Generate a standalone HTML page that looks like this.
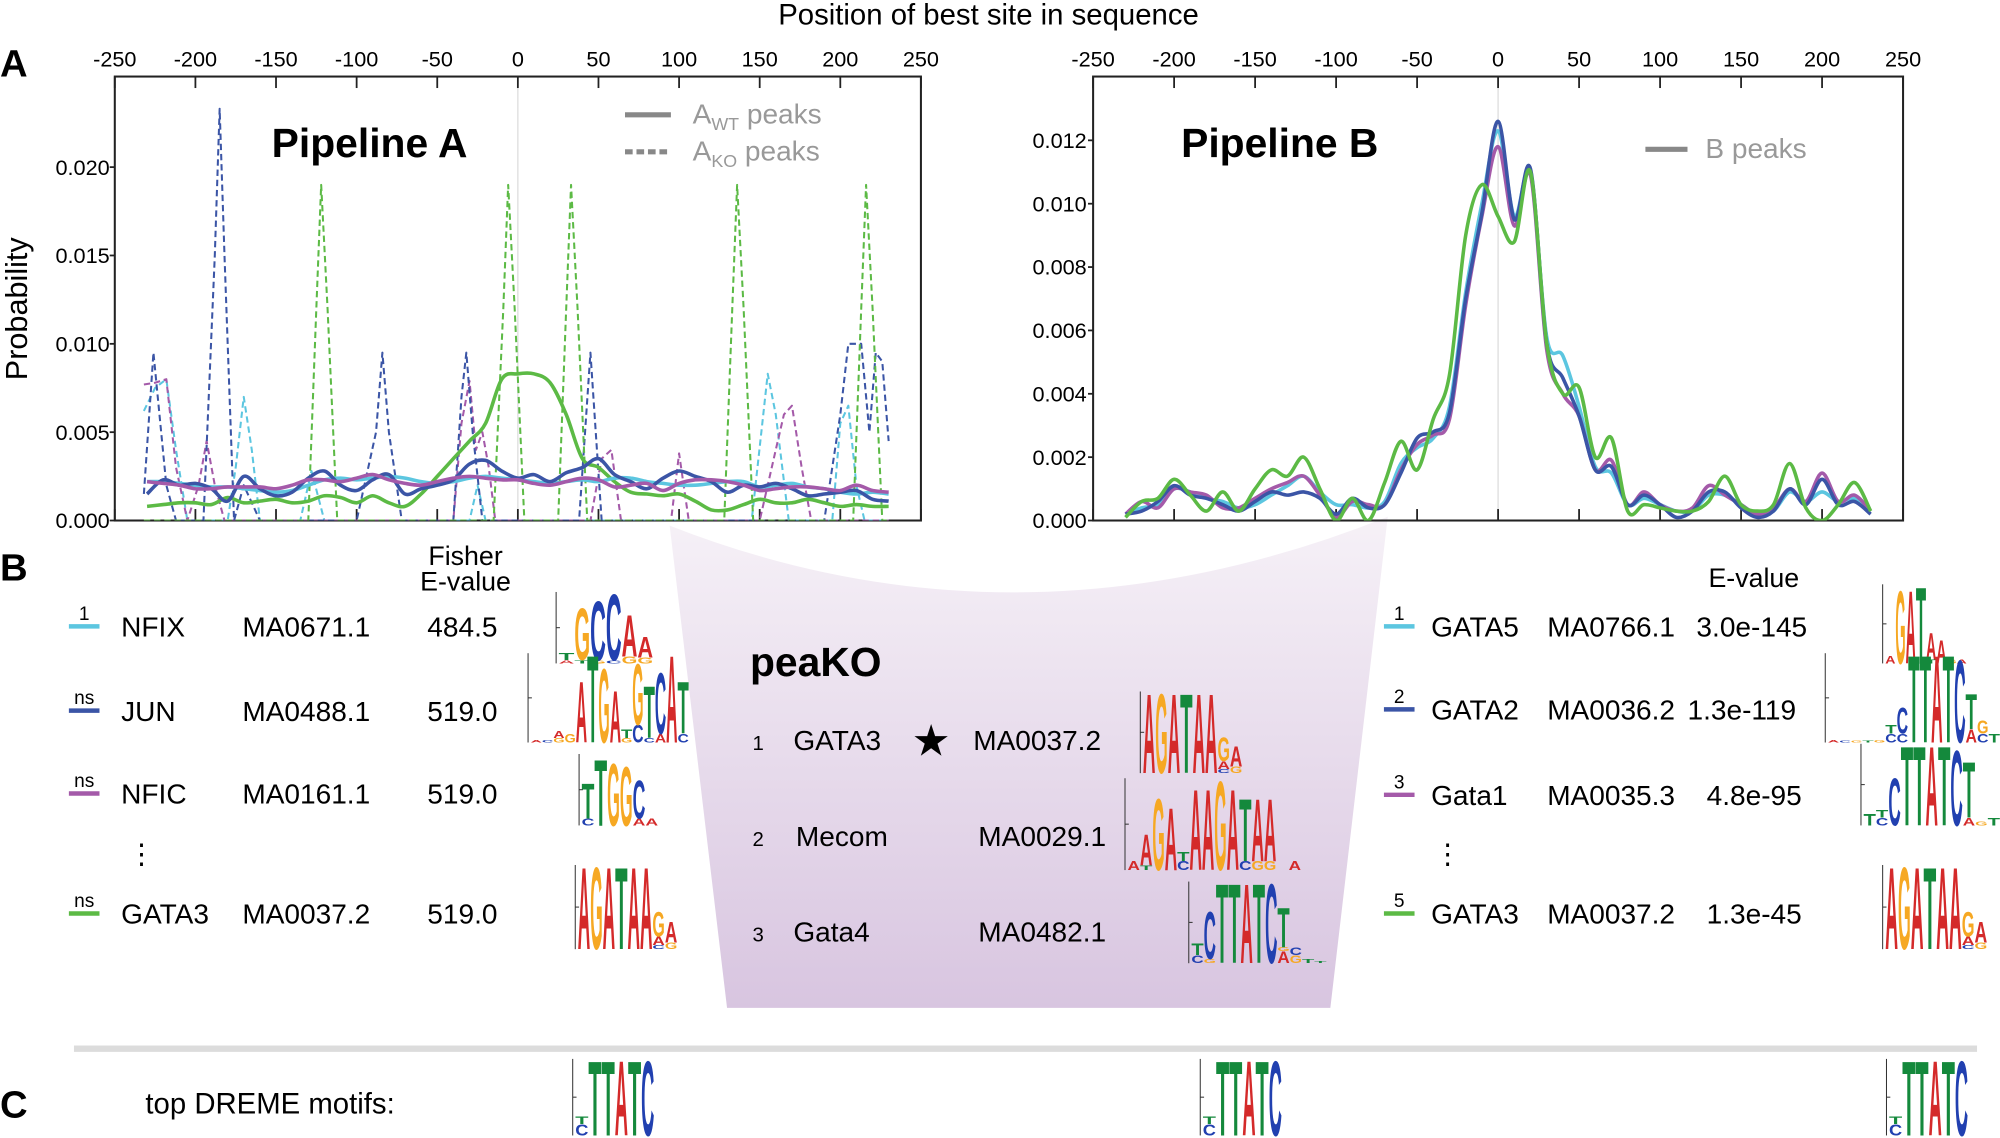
<!DOCTYPE html>
<html><head><meta charset="utf-8">
<style>
html,body{margin:0;padding:0;background:#fff;}
svg{display:block;font-family:"Liberation Sans",Arial,sans-serif;}
</style></head>
<body>
<svg id="fig" width="2000" height="1138" viewBox="0 0 1568 892" preserveAspectRatio="none" xmlns="http://www.w3.org/2000/svg">
<defs>
<linearGradient id="lav" x1="0" y1="0" x2="0" y2="1">
<stop offset="0" stop-color="#f6f1f7"/><stop offset="1" stop-color="#d8c5e0"/>
</linearGradient>
<clipPath id="clipA"><rect x="90" y="60" width="632" height="348"/></clipPath>
<clipPath id="clipB"><rect x="857" y="60" width="635" height="348"/></clipPath>
</defs>
<path d="M525,412 Q800,520 1088,405 L1043,790 L570,790 Z" fill="url(#lav)"/>
<text x="775" y="19" font-size="23" text-anchor="middle">Position of best site in sequence</text>
<text x="0" y="60" font-size="30" font-weight="bold">A</text>
<text x="0" y="455" font-size="30" font-weight="bold">B</text>
<text x="0" y="876" font-size="30" font-weight="bold">C</text>
<text transform="translate(21,242) rotate(-90)" font-size="24" text-anchor="middle">Probability</text>
<g id="plotA"></g>
<g id="plotB"></g>
<text x="213" y="123" font-size="32" font-weight="bold">Pipeline A</text>
<text x="926" y="123" font-size="32" font-weight="bold">Pipeline B</text>
<g fill="#999" font-size="22">
<line x1="490" y1="90" x2="526" y2="90" stroke="#888" stroke-width="4"/>
<text x="543" y="97">A<tspan font-size="14" dy="5">WT</tspan><tspan dy="-5"> peaks</tspan></text>
<line x1="490" y1="119" x2="526" y2="119" stroke="#888" stroke-width="4" stroke-dasharray="6,3"/>
<text x="543" y="126">A<tspan font-size="14" dy="5">KO</tspan><tspan dy="-5"> peaks</tspan></text>
</g>
<g fill="#999" font-size="22">
<line x1="1290" y1="117" x2="1323" y2="117" stroke="#888" stroke-width="4"/>
<text x="1337" y="124">B peaks</text>
</g>
<g id="tables" font-size="22"></g>
<line x1="58" y1="822" x2="1550" y2="822" stroke="#dcdcdc" stroke-width="5"/>
<text x="114" y="873" font-size="23">top DREME motifs:</text>
<text x="588" y="530" font-size="32" font-weight="bold">peaKO</text>
</svg>
<script>
// ---------- Chart data (values in units of 1e-3 probability) ----------
const xTicks = [-250,-200,-150,-100,-50,0,50,100,150,200,250];
const yTicksA = [0.000,0.005,0.010,0.015,0.020];
const yTicksB = [0.000,0.002,0.004,0.006,0.008,0.010,0.012];
const gridX = [-230,-220,-210,-200,-190,-180,-170,-160,-150,-140,-130,-120,-110,-100,-90,-80,-70,-60,-50,-40,-30,-20,-10,0,10,20,30,40,50,60,70,80,90,100,110,120,130,140,150,160,170,180,190,200,210,220,230];
const aWtCyan   = [2.2,2.2,2.1,2.0,1.9,1.9,1.8,1.7,1.6,1.7,2.0,2.3,2.4,2.3,2.4,2.5,2.4,2.2,2.1,2.2,2.4,2.5,2.4,2.3,2.2,2.1,2.2,2.3,2.2,2.4,2.4,2.2,2.1,2.0,2.0,2.1,2.2,2.2,1.9,2.0,2.1,1.9,1.8,1.6,1.5,1.6,1.5];
const aWtBlue   = [1.5,2.3,2.0,2.1,1.8,1.1,2.5,1.8,1.4,1.6,2.4,2.8,2.0,1.7,2.3,2.6,1.5,1.8,2.0,2.3,3.2,3.4,2.8,2.4,2.6,2.2,2.7,3.0,3.5,2.6,2.2,1.8,2.4,2.8,2.5,2.2,1.6,2.0,1.9,2.1,1.8,1.4,1.5,1.6,1.7,1.2,1.1];
const aWtPurple = [2.2,2.1,2.0,1.8,1.8,1.9,1.9,1.9,1.8,2.0,2.3,2.3,2.2,2.4,2.6,2.3,2.1,2.0,2.2,2.4,2.5,2.4,2.3,2.3,2.1,2.0,2.2,2.4,2.3,1.9,2.0,2.1,1.7,2.1,2.3,2.3,2.2,2.0,1.7,1.8,1.9,1.9,1.8,1.7,2.0,1.7,1.6];
const aWtGreen  = [0.8,0.9,1.0,1.0,0.9,1.3,1.0,1.1,1.2,1.0,1.1,1.4,1.3,1.0,1.4,1.0,0.8,1.5,2.5,3.5,4.5,5.5,8.0,8.3,8.3,7.8,6.0,3.5,3.0,2.2,1.6,1.5,1.4,1.5,1.1,0.6,0.6,0.9,1.2,1.0,1.0,1.2,1.0,0.8,0.9,0.8,0.8];
const koBlueX   = [-232,-226,-218,-212,-195,-188,-185,-182,-176,-170,-160,-100,-88,-84,-80,-72,-40,-35,-32,-28,-22,10,38,45,52,190,200,205,213,218,222,226,230];
const koBlueY   = [1.5,9.5,2,0,0,15,23.3,15,0,2,0,0,5,9.5,5,0,0,7,9.5,5,0,0,0,9.5,0,0,6,10,10,5,9.5,9,4.5];
const koGreenX  = [-232,-130,-125,-122,-118,-112,-15,-9,-6,-2,4,25,30,33,37,43,128,133,136,140,146,208,213,216,220,226,230];
const koGreenY  = [0,0,12,19,12,0,0,12,19,12,0,0,12,19,12,0,0,12,19,12,0,0,12,19,12,0,0];
const koCyanX   = [-232,-225,-218,-212,-205,-180,-175,-170,-165,-160,-135,-128,-120,-30,-25,-20,145,155,160,168,195,200,205,210,215,230];
const koCyanY   = [6.2,7.5,8,4,0,0,3,7,4,0,0,2.8,0,0,2,0,0,8.3,6,0,0,5.5,6.5,2,0,0];
const koPurpleX = [-232,-225,-218,-212,-205,-198,-193,-188,-182,-40,-35,-30,-26,-22,-18,-14,45,52,58,64,95,100,106,150,160,165,170,176,182,230];
const koPurpleY = [7.7,7.8,8,3,0,2,4.5,2,0,0,5.5,7.9,4,5,3,0,0,3.5,4,0,0,3.8,0,0,4,6,6.5,3,0,0];
const bCyan   = [0.2,0.4,0.5,1.0,0.9,0.7,0.6,0.4,0.5,0.8,1.1,1.4,0.9,0.5,0.5,0.4,0.6,1.8,2.3,2.6,3.6,7.2,10.0,12.3,9.6,11.0,5.8,5.2,3.6,1.7,1.5,0.5,0.7,0.5,0.3,0.3,0.8,0.8,0.5,0.2,0.3,0.9,0.6,0.9,0.6,0.7,0.3];
const bBlue   = [0.2,0.3,0.6,1.1,0.8,0.7,0.5,0.3,0.6,0.9,0.8,0.9,0.7,0.2,0.7,0.4,0.5,1.5,2.6,2.8,3.4,7.0,9.7,12.6,9.5,11.1,5.6,4.5,3.3,1.6,1.7,0.5,0.8,0.5,0.1,0.3,0.9,0.9,0.4,0.1,0.3,1.0,0.5,1.3,0.5,0.6,0.2];
const bPurple = [0.2,0.6,0.4,1.0,0.9,0.8,0.4,0.4,0.7,1.0,1.2,1.4,0.8,0.1,0.6,0.5,0.5,1.6,2.4,2.7,3.2,6.8,9.6,11.8,9.3,10.9,5.4,4.0,3.3,1.6,1.9,0.5,0.9,0.5,0.3,0.4,1.1,0.8,0.5,0.2,0.4,1.0,0.6,1.5,0.6,0.8,0.3];
const bGreen  = [0.1,0.6,0.7,1.3,0.8,0.3,0.9,0.3,1.0,1.6,1.4,2.0,1.0,0.0,0.7,0.0,1.2,2.5,1.6,3.2,4.6,9.0,10.6,9.6,8.8,11.0,5.6,4.0,4.2,2.0,2.6,0.3,0.5,0.4,0.3,0.3,0.6,1.4,0.5,0.3,0.5,1.8,0.4,0.0,0.5,1.2,0.3];

const COL = {cyan:'#5cc6e0', blue:'#3b55a6', purple:'#a45aa9', green:'#5cba45'};
const NS='http://www.w3.org/2000/svg';
function mk(tag, attrs, parent){const e=document.createElementNS(NS,tag);for(const k in attrs)e.setAttribute(k,attrs[k]);parent.appendChild(e);return e;}

function smoothPath(pts){
  let d='M'+pts[0][0].toFixed(1)+','+pts[0][1].toFixed(1);
  for(let i=0;i<pts.length-1;i++){
    const p0=pts[Math.max(0,i-1)],p1=pts[i],p2=pts[i+1],p3=pts[Math.min(pts.length-1,i+2)];
    const c1=[p1[0]+(p2[0]-p0[0])/6,p1[1]+(p2[1]-p0[1])/6];
    const c2=[p2[0]-(p3[0]-p1[0])/6,p2[1]-(p3[1]-p1[1])/6];
    d+=' C'+c1[0].toFixed(1)+','+c1[1].toFixed(1)+' '+c2[0].toFixed(1)+','+c2[1].toFixed(1)+' '+p2[0].toFixed(1)+','+p2[1].toFixed(1);
  }
  return d;
}
function linePath(pts){return 'M'+pts.map(p=>p[0].toFixed(1)+','+p[1].toFixed(1)).join(' L');}

function drawAxes(g, box, yTicks, xScale, yScale, yLabX){
  const fr=mk('rect',{x:box.x0,y:box.y0,width:box.x1-box.x0,height:box.y1-box.y0,fill:'none',stroke:'#222','stroke-width':1.6},g);
  
  
  const zl=mk('line',{x1:xScale(0),x2:xScale(0),y1:box.y0,y2:box.y1,stroke:'#ddd','stroke-width':1},g);
  
  
  xTicks.forEach(t=>{
    const x=xScale(t);
    const tk=mk('line',{x1:x,x2:x,y1:box.y0,y2:box.y0+9,stroke:'#222','stroke-width':1.4},g);
    
    
    const tb=mk('line',{x1:x,x2:x,y1:box.y1,y2:box.y1-9,stroke:'#222','stroke-width':1.4},g);
    
    
    const lb=mk('text',{x:x,y:box.y0-8,'font-size':17,'text-anchor':'middle'},g);
    lb.textContent=String(t);
    
    
  });
  yTicks.forEach(t=>{
    const y=yScale(t*1000);
    const tk=mk('line',{x1:box.x0-4,x2:box.x0,y1:y,y2:y,stroke:'#222','stroke-width':1.4},g);
    
    
    const lb=mk('text',{x:yLabX,y:y+6,'font-size':17,'text-anchor':'end'},g);
    lb.textContent=t.toFixed(3);
    
    
  });
}

function drawLine(g, xs, ys, xScale, yScale, color, dashed, name, clip){
  const pts=xs.map((x,i)=>[xScale(x),yScale(ys[i])]);
  const p=mk('path',{d:dashed?linePath(pts):smoothPath(pts),fill:'none',stroke:color,'stroke-width':dashed?1.6:2.8,'stroke-dasharray':dashed?'5,3':'none','stroke-linejoin':'round','clip-path':'url(#'+clip+')'},g);
  
  
}

// Panel A
(function(){
  const g=document.getElementById('plotA');
  const box={x0:90,x1:722,y0:60,y1:408};
  const xS=v=>box.x0+(v+250)*(box.x1-box.x0)/500;
  const yS=v=>box.y1-v*(277/20);
  drawAxes(g,box,yTicksA,xS,yS,86);
  drawLine(g,koCyanX,koCyanY,xS,yS,COL.cyan,true,'ko-nfix-line','clipA');
  drawLine(g,koPurpleX,koPurpleY,xS,yS,COL.purple,true,'ko-nfic-line','clipA');
  drawLine(g,koBlueX,koBlueY,xS,yS,COL.blue,true,'ko-jun-line','clipA');
  drawLine(g,koGreenX,koGreenY,xS,yS,COL.green,true,'ko-gata3-line','clipA');
  drawLine(g,gridX,aWtGreen,xS,yS,COL.green,false,'wt-gata3-line','clipA');
  drawLine(g,gridX,aWtCyan,xS,yS,COL.cyan,false,'wt-nfix-line','clipA');
  drawLine(g,gridX,aWtBlue,xS,yS,COL.blue,false,'wt-jun-line','clipA');
  drawLine(g,gridX,aWtPurple,xS,yS,COL.purple,false,'wt-nfic-line','clipA');
})();
// Panel B
(function(){
  const g=document.getElementById('plotB');
  const box={x0:857,x1:1492,y0:60,y1:408};
  const xS=v=>box.x0+(v+250)*(box.x1-box.x0)/500;
  const yS=v=>box.y1-v*(298/12);
  drawAxes(g,box,yTicksB,xS,yS,852);
  drawLine(g,gridX,bCyan,xS,yS,COL.cyan,false,'b-gata5-line','clipB');
  drawLine(g,gridX,bPurple,xS,yS,COL.purple,false,'b-gata1-line','clipB');
  drawLine(g,gridX,bBlue,xS,yS,COL.blue,false,'b-gata2-line','clipB');
  drawLine(g,gridX,bGreen,xS,yS,COL.green,false,'b-gata3-line','clipB');
})();

// ---------- Tables & logos ----------
const LC={A:'#d42a2a',C:'#2140b0',G:'#f6a823',T:'#14893c'};
function logo(x,yb,w,h,cols,name){
  const root=document.getElementById('fig');
  const g=mk('g',{},root);
  
  
  mk('line',{x1:x-2,x2:x-2,y1:yb-h,y2:yb,stroke:'#333','stroke-width':0.8},g);
  mk('line',{x1:x-2,x2:x+1,y1:yb-h/2,y2:yb-h/2,stroke:'#333','stroke-width':0.8},g);
  const cw=w/cols.length;
  cols.forEach((col,i)=>{
    let y=yb;
    col.forEach(([L,f])=>{
      const hh=f*h; if(hh<0.5)return;
      const t=mk('text',{x:0,y:0,'font-size':100,'font-weight':'bold',textLength:70,lengthAdjust:'spacingAndGlyphs',fill:LC[L],transform:`translate(${x+i*cw},${y}) scale(${cw/70},${hh/72})`},g);
      t.textContent=L;
      y-=hh;
    });
  });
}
const tb=document.getElementById('tables');
function txt(x,y,s,name,extra){
  const t=mk('text',Object.assign({x:x,y:y},extra||{}),tb);
  t.textContent=s;
  
  
  return t;
}
function marker(x,y,color,label,name){
  const l=mk('line',{x1:x,x2:x+24,y1:y,y2:y,stroke:color,'stroke-width':3.5},tb);
  
  
  const t=mk('text',{x:x+12,y:y-5,'font-size':15,'text-anchor':'middle'},tb);
  t.textContent=label;
  
  
}
txt(365,443,'Fisher','fisher-header',{'text-anchor':'middle','font-size':21});
txt(365,463,'E-value','fisher-evalue-header',{'text-anchor':'middle','font-size':21});
const leftRows=[[499,COL.cyan,'1','NFIX','MA0671.1','484.5',95],[565,COL.blue,'ns','JUN','MA0488.1','519.0',95],[630,COL.purple,'ns','NFIC','MA0161.1','519.0',95],[724,COL.green,'ns','GATA3','MA0037.2','519.0',95]];
leftRows.forEach(r=>{
  marker(54,r[0]-8,r[1],r[2],'a-marker-'+r[3].toLowerCase());
  txt(r[6],r[0],r[3],'a-motif-name');
  txt(190,r[0],r[4],'a-motif-id');
  txt(335,r[0],r[5],'a-evalue');
});
txt(100,677,'⋮','a-ellipsis',{'font-size':22});
txt(1375,460,'E-value','b-evalue-header',{'text-anchor':'middle','font-size':21});
const rightRows=[[499,COL.cyan,'1','GATA5','MA0766.1','3.0e-145',1330],[564,COL.blue,'2','GATA2','MA0036.2','1.3e-119',1323],[631,COL.purple,'3','Gata1','MA0035.3','4.8e-95',1338],[724,COL.green,'5','GATA3','MA0037.2','1.3e-45',1338]];
rightRows.forEach(r=>{
  marker(1085,r[0]-8,r[1],r[2],'b-marker-'+r[3].toLowerCase());
  txt(1122,r[0],r[3],'b-motif-name');
  txt(1213,r[0],r[4],'b-motif-id');
  txt(r[6],r[0],r[5],'b-evalue');
});
txt(1124,677,'⋮','b-ellipsis',{'font-size':22});
const midRows=[[588,'1','GATA3','MA0037.2',763],[663,'2','Mecom','MA0029.1',767],[738,'3','Gata4','MA0482.1',767]];
midRows.forEach(r=>{
  txt(590,r[0],r[1],'peako-rank',{'font-size':16});
  txt(r[0]==663?624:622,r[0],r[2],'peako-motif-name');
  txt(r[4],r[0],r[3],'peako-motif-id');
});
txt(730,592,'★','gata3-star',{'font-size':34,'text-anchor':'middle'});

const GATA=[[['A',1]],[['G',1]],[['A',1]],[['T',1]],[['A',1]],[['A',1]],[['C',0.05],['A',0.1],['G',0.3]],[['G',0.08],['A',0.25]]];
logo(438,520,74,56,[[['A',0.05],['T',0.1]],[['T',0.05],['G',0.75]],[['G',0.05],['C',0.85]],[['C',0.05],['C',0.95]],[['G',0.1],['A',0.6]],[['G',0.08],['A',0.3]]],'nfix-logo');
logo(416,582,124,70,[[['A',0.03]],[['C',0.03]],[['G',0.05],['A',0.08]],[['G',0.1]],[['A',0.7]],[['T',1]],[['G',0.85]],[['A',0.6]],[['G',0.05],['T',0.1]],[['C',0.2],['G',0.7]],[['C',0.05],['T',0.6]],[['A',0.1],['C',0.7]],[['A',1]],[['C',0.1],['T',0.6]]],'jun-logo');
logo(456,647,60,56,[[['C',0.1],['T',0.5]],[['T',0.95]],[['G',0.9]],[['G',0.85]],[['A',0.1],['C',0.55]],[['A',0.1]]],'nfic-logo');
logo(453,744,78,66,GATA,'gata3-logo-a');
logo(896,606,78,64,GATA,'gata3-logo-peako');
logo(884,682,136,72,[[['A',0.1]],[['T',0.05],['A',0.35]],[['G',0.8]],[['A',0.7]],[['C',0.1],['T',0.1]],[['A',0.9]],[['A',0.9]],[['G',1]],[['A',0.9]],[['C',0.1],['T',0.7]],[['G',0.1],['A',0.7]],[['G',0.1],['A',0.7]],[],[['A',0.1]]],'mecom-logo');
logo(934,755,106,64,[[['C',0.1],['T',0.15]],[['G',0.05],['C',0.6]],[['T',1]],[['T',1]],[['A',1]],[['T',1]],[['C',1]],[['A',0.15],['G',0.05],['T',0.5]],[['G',0.1],['C',0.1]],[['T',0.05]],[['T',0.02]]],'gata4-logo');
logo(1478,520,64,62,[[['A',0.1]],[['G',0.95]],[['A',0.95]],[['T',1]],[['T',0.05],['A',0.35]],[['A',0.3]],[['G',0.05]],[['A',0.05]]],'gata5-logo');
logo(1433,582,135,70,[[['A',0.03]],[['C',0.02]],[['G',0.02]],[['T',0.02]],[['G',0.03]],[['C',0.1],['T',0.1]],[['C',0.1],['C',0.3]],[['T',1]],[['T',1]],[['A',1]],[['T',1]],[['C',0.95]],[['A',0.15],['T',0.4]],[['C',0.1],['G',0.15]],[['T',0.1]]],'gata2-logo');
logo(1461,647,107,64,[[['T',0.15]],[['C',0.1],['T',0.1]],[['C',0.6]],[['T',1]],[['T',1]],[['A',1]],[['T',1]],[['C',0.95]],[['A',0.1],['T',0.7]],[['G',0.05]],[['T',0.1]]],'gata1-logo');
logo(1478,744,80,66,GATA,'gata3-logo-b');
const DREME=[[['C',0.15],['T',0.1]],[['T',1]],[['T',1]],[['A',1]],[['T',1]],[['C',1]]];
logo(451,890,62,60,DREME,'dreme-logo-a');
logo(943,890,62,60,DREME,'dreme-logo-peako');
logo(1481,890,62,60,DREME,'dreme-logo-b');
</script>
</body></html>
